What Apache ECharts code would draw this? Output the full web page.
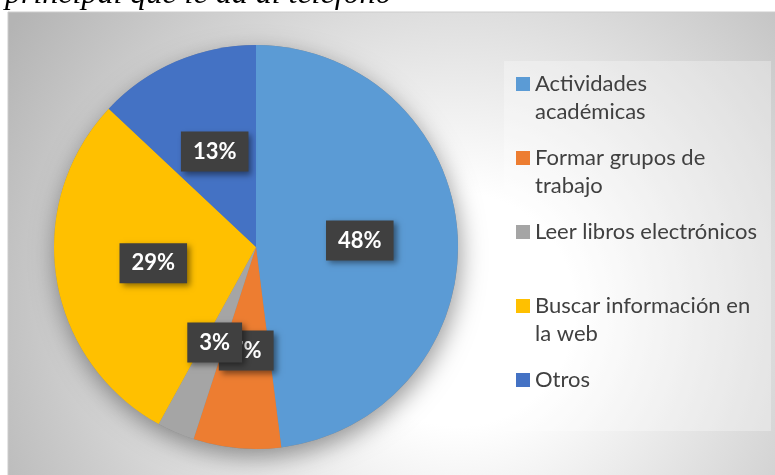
<!DOCTYPE html>
<html>
<head>
<meta charset="utf-8">
<script src="https://cdn.jsdelivr.net/npm/echarts@6/dist/echarts.min.js"></script>
<style>
  html, body { margin: 0; padding: 0; background: #fff; }
  #chart { width: 775px; height: 475px; }
</style>
</head>
<body>
<div id="chart"></div>
<script>
// data
const categories = ['Actividades académicas', 'Formar grupos de trabajo', 'Leer libros electrónicos', 'Buscar información en la web', 'Otros'];
const legendLines = ['Actividades\nacadémicas', 'Formar grupos de\ntrabajo', 'Leer libros electrónicos', 'Buscar información en\nla web', 'Otros'];
const percents = [48, 7, 3, 29, 13];
const colors = ['#5B9BD5', '#ED7D31', '#A5A5A5', '#FFC000', '#4472C4'];
const titleText = 'principal que le da al teléfono';

const chart = echarts.init(document.getElementById('chart'));

const total = percents.reduce((a, b) => a + b, 0);

// legend text: pad so the icon sits on the first line
const legendFormatter = (name) => {
  const label = legendLines[categories.indexOf(name)];
  return label.indexOf('\n') >= 0 ? ' \n' + label : ' \n' + label + '\n ';
};

const option = {
  animation: false,
  color: colors,
  graphic: [
    {
      // title line, partly hidden by the chart area
      type: 'text', x: 5, y: -5, z: -3, silent: true,
      style: {
        text: titleText,
        font: 'italic 32px "Liberation Serif"',
        fill: '#000',
        verticalAlign: 'middle'
      }
    },
    {
      type: 'rect', z: -2, silent: true,
      shape: { x: 8, y: 12, width: 790, height: 480 },
      style: {
        fill: new echarts.graphic.RadialGradient(0.57, 0.62, 1.1, [
          { offset: 0, color: '#ffffff' },
          { offset: 0.22, color: '#ffffff' },
          { offset: 1, color: '#b4b4b4' }
        ]),
        stroke: '#cccccc', lineWidth: 1
      }
    },
    {
      type: 'rect', z: -1, silent: true,
      shape: { x: 504, y: 61, width: 267, height: 370 },
      style: { fill: 'rgba(255,255,255,0.3)' }
    }
  ],
  legend: {
    orient: 'vertical',
    left: 516,
    top: 42,
    padding: 0,
    itemGap: -10,
    itemWidth: 14,
    itemHeight: 14,
    icon: 'rect',
    selectedMode: false,
    data: categories,
    formatter: legendFormatter,
    textStyle: {
      fontFamily: 'Lato',
      fontSize: 22,
      lineHeight: 28,
      color: '#404040'
    }
  },
  series: [
    {
      // shadow disc under the pie
      type: 'pie',
      silent: true,
      center: [256, 247],
      radius: 202,
      label: { show: false },
      labelLine: { show: false },
      data: [{ value: total, name: '_shadow', itemStyle: { color: '#888', shadowBlur: 24, shadowOffsetX: 2, shadowOffsetY: 8, shadowColor: 'rgba(0,0,0,0.4)' } }]
    },
    {
      type: 'pie',
      center: [256, 247],
      radius: 202,
      startAngle: 90,
      clockwise: true,
      avoidLabelOverlap: false,
      itemStyle: { borderWidth: 0 },
      labelLayout: { hideOverlap: false },
      label: {
        show: true,
        position: 'inside',
        formatter: '{c}%',
        color: '#fff',
        fontFamily: 'Lato',
        fontWeight: 'bold',
        fontSize: 22,
        lineHeight: 24,
        backgroundColor: '#404040',
        padding: [8, 12],
        shadowBlur: 6,
        shadowOffsetX: 3,
        shadowOffsetY: 3,
        shadowColor: 'rgba(0,0,0,0.45)'
      },
      labelLine: { show: false },
      data: categories.map((c, i) => ({ name: c, value: percents[i] }))
    }
  ]
};

chart.setOption(option);
</script>
</body>
</html>
